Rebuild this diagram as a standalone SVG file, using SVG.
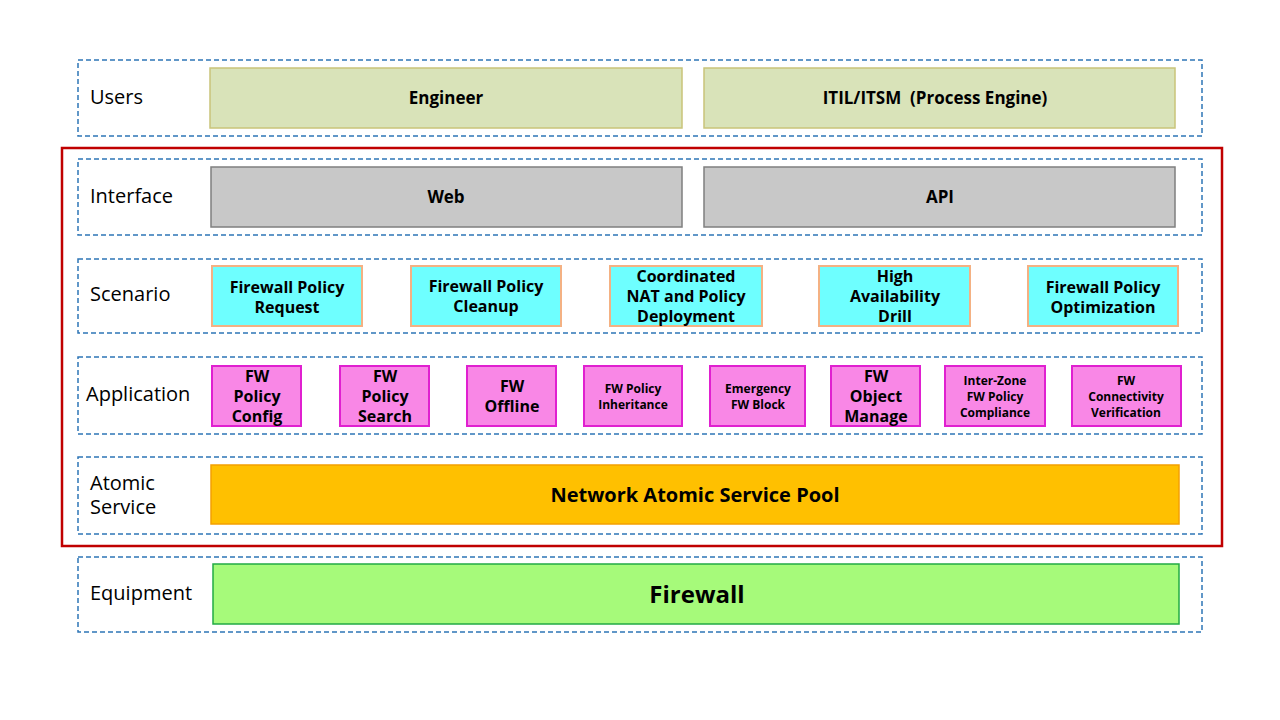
<svg xmlns="http://www.w3.org/2000/svg" width="1280" height="720" viewBox="0 0 1280 720">
<style>
.row{fill:none;stroke:#2e75b6;stroke-width:1.5;stroke-dasharray:5,3}
.lbl{font-family:"Open Sans","Liberation Sans",sans-serif;font-size:20px;fill:#000}
.t{font-family:"Open Sans","Liberation Sans",sans-serif;font-weight:bold;fill:#000;text-anchor:middle}
.u{fill:#d9e3b9;stroke:#c9c47a;stroke-width:1.5}
.i{fill:#c8c8c8;stroke:#7f7f7f;stroke-width:1.5}
.s{fill:#6effff;stroke:#f4b183;stroke-width:2}
.a{fill:#f987e6;stroke:#e020d0;stroke-width:2}
</style>
<rect width="1280" height="720" fill="#fff"/>
<rect x="62" y="148" width="1160" height="398" fill="none" stroke="#c00000" stroke-width="2.5"/>
<g id="rows">
<rect class="row" x="78" y="60" width="1124" height="76"/>
<rect class="row" x="78" y="159" width="1124" height="76"/>
<rect class="row" x="78" y="259" width="1124" height="74"/>
<rect class="row" x="78" y="357" width="1124" height="77"/>
<rect class="row" x="78" y="457" width="1124" height="77"/>
<rect class="row" x="78" y="557" width="1124" height="75"/>
<text class="lbl" x="90" y="104">Users</text>
<text class="lbl" x="90" y="203">Interface</text>
<text class="lbl" x="90" y="301">Scenario</text>
<text class="lbl" x="86" y="401">Application</text>
<text class="lbl" x="90" y="490">Atomic</text>
<text class="lbl" x="90" y="514">Service</text>
<text class="lbl" x="90" y="600">Equipment</text>
</g>
<g id="engineer"><rect class="u" x="210" y="68" width="472" height="60"/><text class="t" x="446" y="104" font-size="17">Engineer</text></g>
<g id="itil"><rect class="u" x="704" y="68" width="471" height="60"/><text class="t" x="935" y="104" font-size="17" xml:space="preserve">ITIL/ITSM  (Process Engine)</text></g>
<g id="web"><rect class="i" x="211" y="167" width="471" height="60"/><text class="t" x="446" y="203" font-size="17">Web</text></g>
<g id="api"><rect class="i" x="704" y="167" width="471" height="60"/><text class="t" x="940" y="203" font-size="17">API</text></g>
<g id="s1"><rect class="s" x="212" y="266" width="150" height="60"/><text class="t" font-size="16" x="287" y="293">Firewall Policy</text><text class="t" font-size="16" x="287" y="313">Request</text></g>
<g id="s2"><rect class="s" x="411" y="266" width="150" height="60"/><text class="t" font-size="16" x="486" y="292">Firewall Policy</text><text class="t" font-size="16" x="486" y="312">Cleanup</text></g>
<g id="s3"><rect class="s" x="610" y="266" width="152" height="60"/><text class="t" font-size="16" x="686" y="282">Coordinated</text><text class="t" font-size="16" x="686" y="302">NAT and Policy</text><text class="t" font-size="16" x="686" y="322">Deployment</text></g>
<g id="s4"><rect class="s" x="819" y="266" width="151" height="60"/><text class="t" font-size="16" x="895" y="282">High</text><text class="t" font-size="16" x="895" y="302">Availability</text><text class="t" font-size="16" x="895" y="322">Drill</text></g>
<g id="s5"><rect class="s" x="1028" y="266" width="150" height="60"/><text class="t" font-size="16" x="1103" y="293">Firewall Policy</text><text class="t" font-size="16" x="1103" y="313">Optimization</text></g>
<g id="a1"><rect class="a" x="212" y="366" width="89" height="60"/><text class="t" font-size="16" x="257" y="382">FW</text><text class="t" font-size="16" x="257" y="402">Policy</text><text class="t" font-size="16" x="257" y="422">Config</text></g>
<g id="a2"><rect class="a" x="340" y="366" width="89" height="60"/><text class="t" font-size="16" x="385" y="382">FW</text><text class="t" font-size="16" x="385" y="402">Policy</text><text class="t" font-size="16" x="385" y="422">Search</text></g>
<g id="a3"><rect class="a" x="467" y="366" width="89" height="60"/><text class="t" font-size="16" x="512" y="392">FW</text><text class="t" font-size="16" x="512" y="412">Offline</text></g>
<g id="a4"><rect class="a" x="584" y="366" width="98" height="60"/><text class="t" font-size="12" x="633" y="393">FW Policy</text><text class="t" font-size="12" x="633" y="409">Inheritance</text></g>
<g id="a5"><rect class="a" x="710" y="366" width="95" height="60"/><text class="t" font-size="12" x="758" y="393">Emergency</text><text class="t" font-size="12" x="758" y="409">FW Block</text></g>
<g id="a6"><rect class="a" x="831" y="366" width="89" height="60"/><text class="t" font-size="16" x="876" y="382">FW</text><text class="t" font-size="16" x="876" y="402">Object</text><text class="t" font-size="16" x="876" y="422">Manage</text></g>
<g id="a7"><rect class="a" x="945" y="366" width="100" height="60"/><text class="t" font-size="12" x="995" y="385">Inter-Zone</text><text class="t" font-size="12" x="995" y="401">FW Policy</text><text class="t" font-size="12" x="995" y="417">Compliance</text></g>
<g id="a8"><rect class="a" x="1072" y="366" width="109" height="60"/><text class="t" font-size="12" x="1126" y="385">FW</text><text class="t" font-size="12" x="1126" y="401">Connectivity</text><text class="t" font-size="12" x="1126" y="417">Verification</text></g>
<g id="pool"><rect x="211" y="465" width="968" height="59" fill="#ffc000" stroke="#f4a000" stroke-width="1.5"/><text class="t" font-size="20" x="695" y="502">Network Atomic Service Pool</text></g>
<g id="firewall"><rect x="213" y="564" width="966" height="60" fill="#a6fa7a" stroke="#22aa44" stroke-width="1.5"/><text class="t" font-size="24" x="697" y="603">Firewall</text></g>
<g id="connectors"/>
</svg>
